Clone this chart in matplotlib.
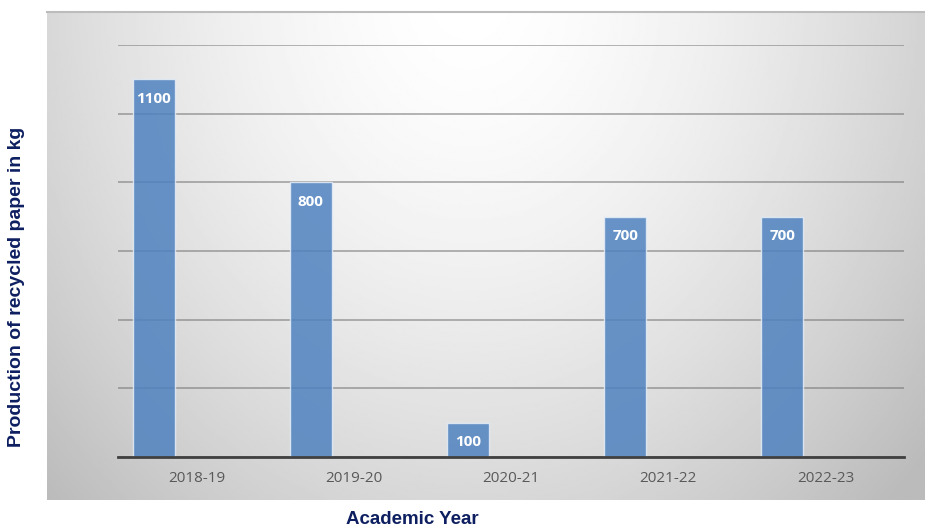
import numpy as np
import matplotlib.pyplot as plt

years = ['2018-19', '2019-20', '2020-21', '2021-22', '2022-23']
paper_kg = [1100, 800, 100, 700, 700]

fig = plt.figure(figsize=(9.25, 5.29), dpi=100)
W, H = 925, 529

# grey radial background panel
bg = fig.add_axes([47 / W, 1 - 500 / H, (925 - 47) / W, (500 - 12) / H])
px = np.linspace(47, 925, 400)
py = np.linspace(12, 500, 250)
gx, gy = np.meshgrid(px, py)
r = np.sqrt(((gx - 470) / 500) ** 2 + ((gy + 10) / 600) ** 2)
shade = 1 - 0.2 * np.clip(r, 0, 1.2) ** 1.6
bg.imshow(shade, cmap='gray', vmin=0, vmax=1, aspect='auto', extent=[0, 1, 0, 1])
bg.set_xticks([])
bg.set_yticks([])
for s in bg.spines.values():
    s.set_visible(False)
bg.spines['top'].set_visible(True)
bg.spines['top'].set_color('#bcbcbc')
bg.spines['top'].set_linewidth(1.5)

ax = fig.add_axes([118 / W, 1 - 457 / H, (904 - 118) / W, (457 - 45) / H])
ax.patch.set_alpha(0)
x = np.arange(len(years))
bars = ax.bar(x - 0.273, paper_kg, width=0.267, color='#4f82c0', alpha=0.85,
              edgecolor='#e6eef8', linewidth=1, zorder=3)
for b, v in zip(bars, paper_kg):
    ax.annotate(str(v), (b.get_x() + b.get_width() / 2, v), xytext=(0, -14),
                textcoords='offset points', ha='center', va='center',
                color='white', fontsize=11, fontweight='bold',
                family='Open Sans', zorder=4)

ax.set_xlim(-0.5, 4.5)
ax.set_ylim(0, 1200)
ax.set_yticks(np.arange(0, 1201, 200))
ax.yaxis.grid(True, color='#707070', alpha=0.6, linewidth=1.2, zorder=1)
ax.tick_params(axis='y', left=False, labelleft=False)
ax.tick_params(axis='x', length=0, pad=10, labelsize=11, labelcolor='#595959')
ax.set_xticks(x)
ax.set_xticklabels(years, family='Open Sans')
for s in ['top', 'right', 'left']:
    ax.spines[s].set_visible(False)
ax.spines['bottom'].set_color('#404040')
ax.spines['bottom'].set_linewidth(2)
ax.spines['bottom'].set_zorder(5)

fig.text(17 / W, 1 - 287 / H, 'Production of recycled paper in kg', rotation=90,
         ha='center', va='center', color='#0d1f60', fontsize=14,
         fontweight='bold', family='Liberation Sans')
fig.text(412 / W, 1 - 520 / H, 'Academic Year', ha='center', va='center',
         color='#0d1f60', fontsize=13.5, fontweight='bold',
         family='Liberation Sans')

fig.savefig('out.png', dpi=100)
